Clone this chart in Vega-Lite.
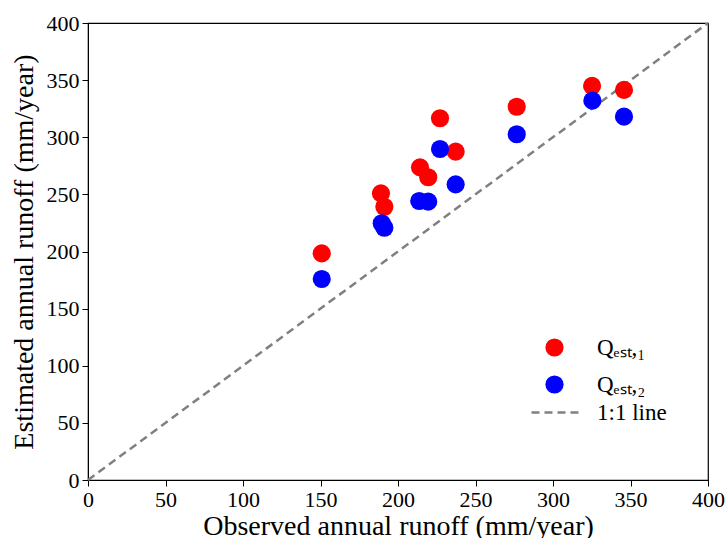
{
  "$schema": "https://vega.github.io/schema/vega-lite/v6.json",
  "width": 620,
  "height": 457,
  "autosize": {"type": "none"},
  "padding": {"left": 88, "top": 23, "right": 18, "bottom": 58},
  "background": "white",
  "config": {
    "view": {"stroke": "black", "strokeWidth": 1.2}
  },
  "datasets": {
    "pts": [
      {"obs": 150.8, "est": 198.4, "series": "Qₑₛₜ,₁"},
      {"obs": 189.0, "est": 250.9, "series": "Qₑₛₜ,₁"},
      {"obs": 191.2, "est": 239.2, "series": "Qₑₛₜ,₁"},
      {"obs": 214.2, "est": 273.7, "series": "Qₑₛₜ,₁"},
      {"obs": 219.5, "est": 265.0, "series": "Qₑₛₜ,₁"},
      {"obs": 227.1, "est": 316.6, "series": "Qₑₛₜ,₁"},
      {"obs": 237.2, "est": 287.4, "series": "Qₑₛₜ,₁"},
      {"obs": 276.6, "est": 326.7, "series": "Qₑₛₜ,₁"},
      {"obs": 325.2, "est": 344.9, "series": "Qₑₛₜ,₁"},
      {"obs": 345.8, "est": 341.4, "series": "Qₑₛₜ,₁"},
      {"obs": 150.8, "est": 175.9, "series": "Qₑₛₜ,₂"},
      {"obs": 189.5, "est": 224.7, "series": "Qₑₛₜ,₂"},
      {"obs": 191.2, "est": 220.8, "series": "Qₑₛₜ,₂"},
      {"obs": 213.7, "est": 244.2, "series": "Qₑₛₜ,₂"},
      {"obs": 219.5, "est": 243.6, "series": "Qₑₛₜ,₂"},
      {"obs": 227.1, "est": 289.7, "series": "Qₑₛₜ,₂"},
      {"obs": 237.2, "est": 258.8, "series": "Qₑₛₜ,₂"},
      {"obs": 276.6, "est": 302.6, "series": "Qₑₛₜ,₂"},
      {"obs": 325.4, "est": 332.0, "series": "Qₑₛₜ,₂"},
      {"obs": 345.8, "est": 318.0, "series": "Qₑₛₜ,₂"}
    ],
    "line": [
      {"obs": 0, "est": 0, "kind": "1:1 line"},
      {"obs": 400, "est": 400, "kind": "1:1 line"}
    ]
  },
  "encoding": {
    "x": {"field": "obs", "type": "quantitative", "scale": {"domain": [0, 400], "nice": false},
      "axis": {"values": [0,50,100,150,200,250,300,350,400], "title": "Observed annual runoff (mm/year)",
        "grid": false, "domainColor": "black", "tickColor": "black", "tickSize": 6, "labelFlush": false, "labelOverlap": false,
        "labelFont": "Liberation Serif", "labelFontSize": 22, "labelColor": "black", "labelPadding": 3,
        "titleFont": "Liberation Serif", "titleFontSize": 28, "titleFontWeight": "normal", "titleColor": "black", "titlePadding": 2}},
    "y": {"field": "est", "type": "quantitative", "scale": {"domain": [0, 400], "nice": false},
      "axis": {"values": [0,50,100,150,200,250,300,350,400], "title": "Estimated annual runoff (mm/year)",
        "grid": false, "domainColor": "black", "tickColor": "black", "tickSize": 6, "labelFlush": false, "labelOverlap": false,
        "labelFont": "Liberation Serif", "labelFontSize": 22, "labelColor": "black", "labelPadding": 3,
        "titleFont": "Liberation Serif", "titleFontSize": 28, "titleFontWeight": "normal", "titleColor": "black", "titlePadding": 8}}
  },
  "layer": [
    {
      "data": {"name": "line"},
      "mark": {"type": "line", "color": "#808080", "strokeWidth": 2.5},
      "encoding": {
        "strokeDash": {
          "field": "kind", "type": "nominal",
          "scale": {"domain": ["1:1 line"], "range": [[8, 5]]},
          "legend": {"title": null, "orient": "none", "legendX": 442, "legendY": 364, "symbolType": "stroke", "symbolSize": 2304, "symbolStrokeColor": "#808080", "symbolStrokeWidth": 2.5, "labelOffset": 16, "padding": 0,
            "labelFont": "Liberation Serif", "labelFontSize": 23, "labelColor": "black"}
        }
      }
    },
    {
      "data": {"name": "pts"},
      "mark": {"type": "point", "filled": true, "opacity": 1, "size": 330},
      "encoding": {
        "color": {
          "field": "series", "type": "nominal",
          "scale": {"domain": ["Qₑₛₜ,₁", "Qₑₛₜ,₂"], "range": ["#ff0000", "#0000ff"]},
          "legend": {"title": null, "orient": "none", "legendX": 455, "legendY": 313, "symbolType": "circle", "symbolSize": 330, "symbolOpacity": 1, "labelOffset": 31, "rowPadding": 13, "padding": 0,
            "labelFont": "Liberation Serif", "labelFontSize": 23, "labelColor": "black"}
        }
      }
    }
  ]
}
